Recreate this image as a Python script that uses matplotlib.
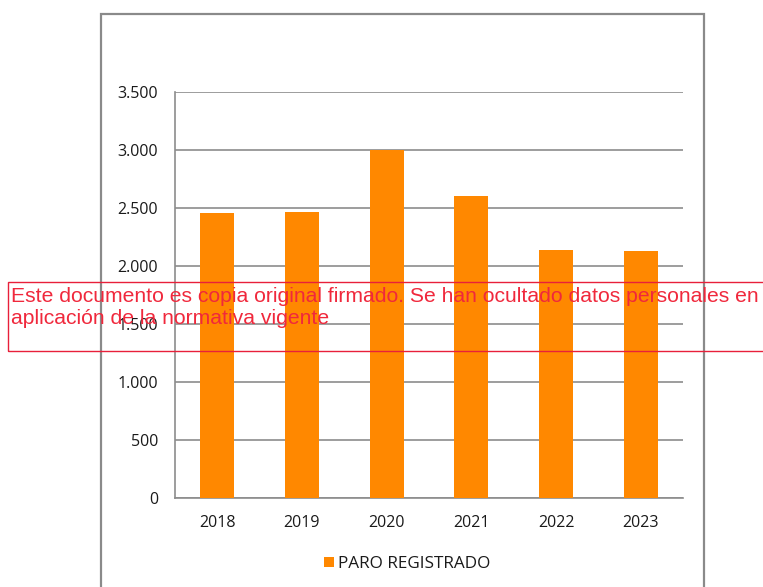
import matplotlib
matplotlib.use("Agg")
import matplotlib.pyplot as plt
from matplotlib.patches import Rectangle
from matplotlib.ticker import FuncFormatter

# Paro registrado por año
anios = ["2018", "2019", "2020", "2021", "2022", "2023"]
paro = [2457, 2466, 2997, 2600, 2135, 2126]
etiqueta_serie = "PARO REGISTRADO"
aviso = ("Este documento es copia original firmado. Se han ocultado datos personales en\n"
         "aplicación de la normativa vigente")

W, H = 763, 587
fig = plt.figure(figsize=(W / 100, H / 100), dpi=100)
fig.patch.set_facecolor("white")

# marco exterior del gráfico
fig.patches.append(Rectangle((101 / W, -0.05), 603 / W, 1 - 14 / H + 0.05,
                             transform=fig.transFigure, fill=False,
                             edgecolor="#8a8a8a", linewidth=1.6))

ax = fig.add_axes([175 / W, 1 - 498 / H, 508 / W, 406 / H])
x = range(len(anios))
ax.bar(x, paro, width=0.4, color="#FF8800", label=etiqueta_serie, zorder=3)

ax.set_xlim(-0.5, len(anios) - 0.5)
ax.set_ylim(0, 3500)
ax.set_yticks(range(0, 3501, 500))
ax.yaxis.set_major_formatter(FuncFormatter(lambda v, p: f"{int(v):,}".replace(",", ".")))
ax.set_xticks(list(x))
ax.set_xticklabels(anios)
ax.grid(axis="y", color="#8c8c8c", linewidth=1.2, zorder=0)
ax.tick_params(axis="both", length=0, labelsize=11.5, colors="#1a1a1a")
ax.tick_params(axis="y", pad=12)
ax.tick_params(axis="x", pad=12)
for s in ["top", "right"]:
    ax.spines[s].set_visible(False)
for s in ["left", "bottom"]:
    ax.spines[s].set_color("#8c8c8c")
    ax.spines[s].set_linewidth(1.2)
for lab in ax.get_xticklabels() + ax.get_yticklabels():
    lab.set_family(["Open Sans", "DejaVu Sans"])

leg = fig.legend(loc="center", bbox_to_anchor=(407 / W, 1 - 564 / H), frameon=False,
                 handlelength=0.6, handleheight=0.6, handletextpad=0.25,
                 prop={"family": "Open Sans", "size": 12.3})
for t in leg.get_texts():
    t.set_color("#1a1a1a")

# recuadro del aviso en rojo (tapa parte del eje, como en el documento firmado)
fig.patches.append(Rectangle((8 / W, 1 - 351 / H), 770 / W, 69 / H,
                             transform=fig.transFigure, fill=False,
                             edgecolor="#E8203A", linewidth=1.0, clip_on=False))
fig.text(11 / W, 1 - 286.5 / H, aviso, color="#F0283C", fontsize=15.2,
         family="Liberation Sans", va="top", ha="left", linespacing=1.2)

fig.savefig("out.png", dpi=100)
